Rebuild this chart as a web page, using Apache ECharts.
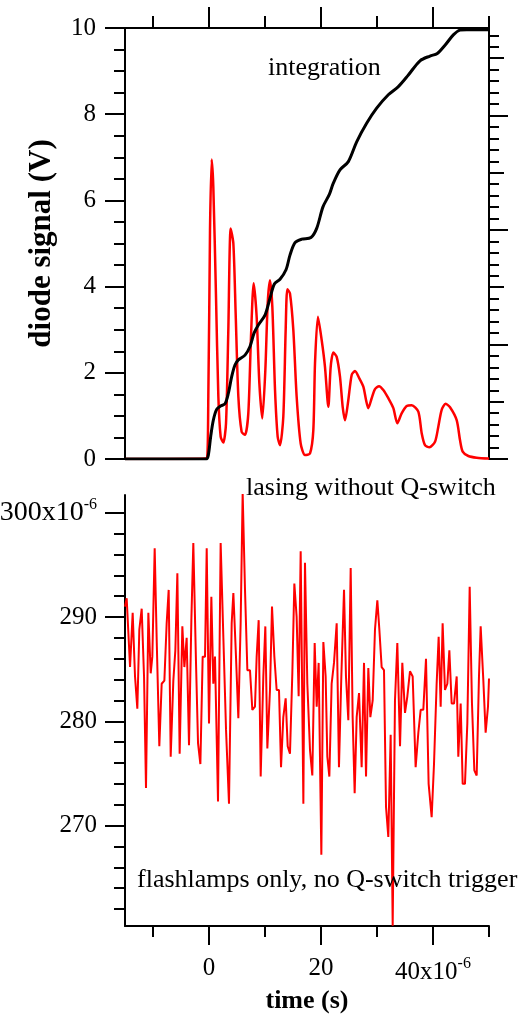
<!DOCTYPE html>
<html>
<head>
  <meta charset="UTF-8" />
  <title>diode signal</title>
  <style>
    * { margin: 0; padding: 0; }
    html, body { width: 526px; height: 1015px; background: #fff; }
    #chart { width: 526px; height: 1015px; }
  </style>
</head>
<body>
  <div id="chart"></div>
  <script src="https://cdn.jsdelivr.net/npm/echarts@6/dist/echarts.min.js"></script>
  <script>
    // time in µs, top panel signals in V
    var laserTime = [-15, -0.54, -0.12, 0.18, 0.48, 0.77, 1.25, 1.67, 2.08, 2.56, 3.04, 3.45, 3.87, 4.35, 4.76, 5.24, 5.83, 6.43, 7.02, 7.5,
      7.98, 8.51, 8.99, 9.52, 10.06, 10.48, 10.89, 11.31, 11.79, 12.26, 12.68, 13.27, 13.69, 13.99, 14.46, 15.06, 15.65, 16.37, 17.14, 18.04,
      18.63, 18.93, 19.45, 20.12, 20.71, 21.31, 21.73, 22.2, 22.8, 23.39, 23.87, 24.29, 24.88, 25.48, 26.07, 26.85, 27.56, 28.04, 28.45, 29.05,
      29.64, 30.36, 31.13, 32.02, 32.92, 33.63, 34.4, 35.3, 36.19, 37.38, 37.98, 38.57, 39.35, 40.36, 40.95, 41.55, 42.26, 43.04, 44.23, 44.82,
      45.3, 46.31, 47.8, 50];
    var laserSignal = [0, 0.01, 1.45, 5.31, 6.95, 6.32, 3.77, 1.45, 0.52, 0.38, 0.83, 2.99, 5.35, 5.0, 3.38, 1.45, 0.63, 0.56, 1.06, 2.84,
      4.08, 3.3, 1.76, 0.94, 2.06, 3.61, 4.15, 3.53, 1.6, 0.52, 0.32, 0.98, 2.99, 3.94, 3.84, 2.99, 1.45, 0.36, 0.09, 0.13,
      0.67, 2.22, 3.3, 2.76, 2.14, 1.21, 2.14, 2.47, 2.37, 1.91, 1.21, 0.9, 1.37, 1.95, 2.04, 1.87, 1.68, 1.37, 1.18, 1.41,
      1.62, 1.69, 1.6, 1.41, 1.18, 0.83, 1.06, 1.23, 1.25, 1.1, 0.6, 0.32, 0.27, 0.4, 0.75, 1.14, 1.28, 1.2, 0.9, 0.44,
      0.17, 0.07, 0.03, 0.01];

    var integTime = [-15, -0.5, -0.12, 0.3, 0.77, 1.37, 2.08, 2.86, 3.45, 4.05, 4.64, 5.24, 6.43, 7.32, 8.04, 8.81, 10.0, 10.89, 11.67, 12.68,
      13.75, 14.46, 15.36, 16.55, 18.21, 19.23, 20.35, 21.49, 22.2, 23.39, 24.88, 26.37, 28.15, 29.94, 32.02, 33.81, 35.6, 37.68, 39.46, 40.77,
      42.14, 43.63, 44.82, 46.01, 50];
    var integSignal = [0, 0, 0.09, 0.52, 0.9, 1.15, 1.23, 1.28, 1.52, 1.91, 2.18, 2.3, 2.41, 2.61, 2.92, 3.11, 3.34, 3.73, 4.06, 4.17,
      4.39, 4.73, 5.02, 5.1, 5.14, 5.35, 5.85, 6.14, 6.4, 6.71, 6.9, 7.36, 7.79, 8.14, 8.45, 8.64, 8.91, 9.24, 9.35, 9.41,
      9.6, 9.84, 9.95, 9.96, 9.96];

    // bottom panel, signal in µV
    var noiseTime = [-15, -14.7, -14.1, -13.63, -13.21, -12.8, -12.44, -12.02, -11.6, -11.25,
      -10.83, -10.41, -10.12, -9.7, -9.34, -8.87, -8.45, -7.97, -7.56, -7.2,
      -6.84, -6.37, -6.01, -5.65, -5.24, -4.76, -4.4, -3.99, -3.57, -3.15,
      -2.8, -2.32, -1.96, -1.54, -1.13, -0.71, -0.41, 0.0, 0.42, 0.77,
      1.07, 1.61, 2.08, 2.56, 3.04, 3.57, 4.05, 4.35, 4.82, 5.24,
      5.65, 6.01, 6.43, 6.85, 7.32, 7.74, 8.21, 8.51, 8.87, 9.23,
      9.7, 10.06, 10.42, 10.89, 11.25, 11.67, 12.08, 12.5, 12.86, 13.27,
      13.69, 14.05, 14.46, 14.88, 15.24, 15.65, 16.01, 16.37, 16.85, 17.14,
      17.56, 18.04, 18.45, 18.87, 19.23, 19.58, 20.06, 20.42, 20.83, 21.13,
      21.49, 21.9, 22.32, 22.8, 23.21, 23.63, 24.11, 24.46, 24.88, 25.3,
      25.65, 26.01, 26.37, 26.79, 27.26, 27.68, 28.04, 28.45, 28.81, 29.23,
      29.64, 30.06, 30.42, 30.83, 31.25, 31.61, 32.02, 32.44, 32.8, 33.21,
      33.63, 34.11, 34.52, 35.0, 35.42, 35.89, 36.37, 36.9, 37.38, 37.8,
      38.27, 38.75, 39.22, 39.76, 40.18, 40.65, 41.01, 41.37, 41.72, 42.14,
      42.56, 42.92, 43.33, 43.75, 44.23, 44.52, 44.94, 45.3, 45.71, 46.13,
      46.55, 46.96, 47.38, 47.8, 48.21, 48.51, 48.99, 49.4, 49.82, 50];
    var noiseSignal = [291.0, 291.8, 285.2, 290.4, 284.3, 281.2, 288.8, 290.8, 284.3, 273.6,
      290.4, 284.6, 286.2, 296.6, 287.8, 277.6, 283.6, 283.9, 289.4, 292.6,
      276.6, 283.9, 286.8, 294.2, 276.9, 289.1, 285.2, 288.0, 277.7, 289.7,
      297.1, 285.6, 277.9, 275.9, 286.2, 286.2, 296.6, 279.8, 291.95, 283.6,
      286.2, 272.3, 297.1, 288.1, 279.2, 272.1, 289.4, 292.3, 286.2, 280.3,
      289.4, 301.9, 292.6, 284.9, 284.9, 281.1, 281.4, 286.2, 289.7, 274.7,
      284.3, 289.1, 277.4, 283.0, 291.0, 286.2, 283.0, 283.0, 275.6, 280.4,
      282.2, 277.6, 276.9, 284.6, 293.2, 290.0, 282.4, 296.3, 272.1, 295.2,
      283.6, 277.2, 274.8, 287.5, 281.4, 285.6, 267.2, 287.6, 284.3, 276.6,
      274.7, 283.6, 285.6, 289.4, 275.6, 284.3, 292.6, 284.3, 280.1, 294.7,
      280.4, 273.1, 280.4, 282.7, 275.6, 285.6, 274.7, 285.1, 280.4, 282.0,
      288.8, 291.6, 288.8, 285.2, 284.9, 271.8, 268.9, 278.7, 260.4, 282.0,
      287.5, 277.6, 285.6, 280.8, 282.4, 284.8, 284.3, 275.6, 278.9, 281.1,
      281.1, 286.0, 274.0, 270.8, 275.9, 283.6, 288.1, 281.4, 289.4, 283.0,
      283.6, 286.8, 281.7, 281.7, 284.3, 276.6, 281.7, 274.0, 274.0, 279.8,
      292.9, 281.7, 275.3, 274.8, 284.3, 289.1, 283.9, 278.9, 281.4, 284.1];

    // tick positions
    var timeMajor = [0, 20, 40];
    var timeMinor = [-10, 10, 30, 50];
    var noiseMajor = [270, 280, 290, 300];
    var noiseMinor = [];
    for (var v = 262; v <= 298; v += 2) if (v % 10) noiseMinor.push(v);
    var rightLong = [0, 1, 2, 3];
    var rightMid = [0.5, 1.5, 2.5, 3.5];
    var rightShort = [];
    for (var i = 1; i <= 37; i++) if (i % 5) rightShort.push(i / 10);

    function zip(a, b) {
      return a.map(function (x, k) { return [x, b[k]]; });
    }

    var FONT = 'Liberation Serif';
    var black = { color: '#000', width: 2 };
    var supRich = {
      b: { fontFamily: FONT, fontSize: 28, color: '#000' },
      s: { fontFamily: FONT, fontSize: 16, color: '#000', padding: [0, 0, 16, 0] }
    };
    var nameStyle = { fontFamily: FONT, fontSize: 31, fontWeight: 'bold', color: '#000' };

    // plain axis that only draws a set of ticks
    function tickAxis(grid, pos, min, max, values, len, showLine) {
      return {
        type: 'value', gridIndex: grid, position: pos, min: min, max: max,
        axisLine: { show: !!showLine, onZero: false, lineStyle: black },
        axisTick: { show: true, customValues: values, length: len, lineStyle: black },
        axisLabel: { show: false },
        splitLine: { show: false }
      };
    }

    var chart = echarts.init(document.getElementById('chart'));

    var xTopMain = tickAxis(0, 'top', -15, 50, timeMajor, 21, true);
    var xTopMinor = tickAxis(0, 'top', -15, 50, timeMinor, 12, false);
    var xBotMain = tickAxis(1, 'bottom', -15, 50, timeMajor, 19, true);
    xBotMain.axisLabel = {
      show: true, customValues: timeMajor, margin: 30,
      fontFamily: FONT, fontSize: 25, color: '#000',
      formatter: function (val) { return val === 40 ? '40x10{s|-6}' : String(val); },
      rich: supRich
    };
    xBotMain.name = 'time (s)';
    xBotMain.nameLocation = 'middle';
    xBotMain.nameGap = 62;
    xBotMain.nameTextStyle = { fontFamily: FONT, fontSize: 26, fontWeight: 'bold', color: '#000' };
    var xBotMinor = tickAxis(1, 'bottom', -15, 50, timeMinor, 11, false);

    var yTopLeft = {
      type: 'value', gridIndex: 0, position: 'left', min: 0, max: 10, interval: 2,
      axisLine: { show: true, onZero: false, lineStyle: black },
      axisTick: { show: true, length: 20, lineStyle: black },
      minorTick: { show: true, splitNumber: 4, length: 11, lineStyle: black },
      axisLabel: { margin: 29, fontFamily: FONT, fontSize: 25, color: '#000' },
      splitLine: { show: false },
      name: 'diode signal (V)', nameLocation: 'middle', nameGap: 68,
      nameTextStyle: nameStyle
    };
    var rightMax = 3.764;
    var yRight1 = tickAxis(0, 'right', 0, rightMax, rightLong, 19, true);
    var yRight2 = tickAxis(0, 'right', 0, rightMax, rightMid, 15, false);
    var yRight3 = tickAxis(0, 'right', 0, rightMax, rightShort, 10, false);

    var yBotMain = tickAxis(1, 'left', 260.37, 301.7, noiseMajor, 20, true);
    yBotMain.axisLabel = {
      show: true, customValues: noiseMajor, margin: 28,
      fontFamily: FONT, fontSize: 25, color: '#000',
      formatter: function (val) { return val === 300 ? '{b|300x10}{s|-6}' : String(val); },
      rich: supRich
    };
    yBotMain.name = 'diode signal (V)';
    yBotMain.nameLocation = 'middle';
    yBotMain.nameGap = 68;
    yBotMain.nameTextStyle = nameStyle;
    var yBotMinor = tickAxis(1, 'left', 260.37, 301.7, noiseMinor, 11, false);

    var note = function (left, top, text) {
      return {
        type: 'text', left: left, top: top, z: 10,
        style: { text: text, font: '26px "' + FONT + '"', fill: '#000' }
      };
    };

    chart.setOption({
      animation: false,
      backgroundColor: '#fff',
      grid: [
        { left: 125, top: 28, width: 364, height: 431, containLabel: false, outerBoundsMode: 'none' },
        { left: 125, top: 495, width: 364, height: 431, containLabel: false, outerBoundsMode: 'none' }
      ],
      xAxis: [xTopMain, xTopMinor, xBotMain, xBotMinor],
      yAxis: [yTopLeft, yRight1, yRight2, yRight3, yBotMain, yBotMinor],
      graphic: [
        note(268, 55, 'integration'),
        note(246, 475, 'lasing without Q-switch'),
        note(137, 867, 'flashlamps only, no Q-switch trigger')
      ],
      series: [
        {
          name: 'lasing', type: 'line', xAxisIndex: 0, yAxisIndex: 0,
          data: zip(laserTime, laserSignal), showSymbol: false, smooth: 0.25,
          lineStyle: { color: '#ff0000', width: 2.5 }
        },
        {
          name: 'integration', type: 'line', xAxisIndex: 0, yAxisIndex: 0,
          data: zip(integTime, integSignal), showSymbol: false, smooth: 0.3,
          lineStyle: { color: '#000', width: 3 }
        },
        {
          name: 'flashlamps only', type: 'line', xAxisIndex: 2, yAxisIndex: 4,
          data: zip(noiseTime, noiseSignal), showSymbol: false,
          lineStyle: { color: '#ff0000', width: 2 }
        }
      ]
    });
  </script>
</body>
</html>
